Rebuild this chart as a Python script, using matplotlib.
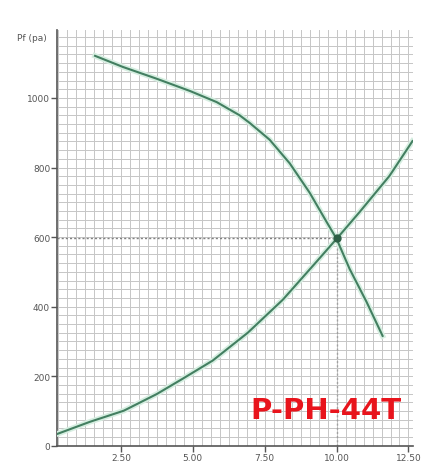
import numpy as np
import matplotlib
matplotlib.use("Agg")
import matplotlib.pyplot as plt
import matplotlib.patheffects as pe
from matplotlib.ticker import MultipleLocator

# fan curve (pressure falls with flow)
fan_flow = [1.60, 2.57, 3.75, 4.90, 5.83, 6.63, 6.98, 7.67, 8.37, 9.06, 9.65, 10.0, 10.45, 11.04, 11.6]
fan_pressure = [1121, 1089, 1055, 1020, 988, 950, 928, 880, 812, 728, 644, 595, 509, 414, 316]

# system curve (pressure rises with flow)
sys_flow = [0.28, 1.42, 2.60, 3.75, 4.65, 5.69, 6.91, 8.13, 9.31, 10.0, 10.8, 11.84, 12.64]
sys_pressure = [34, 69, 101, 149, 193, 245, 325, 420, 530, 595, 672, 776, 876]

# operating point
op_flow, op_pressure = 10.0, 598

x_ticks = [2.5, 5.0, 7.5, 10.0, 12.5]
x_labels = ["2.50", "5.00", "7.50", "10.00", "12.50"]
y_ticks = [0, 200, 400, 600, 800, 1000]

fig = plt.figure(figsize=(4.26, 4.64), dpi=100)
ax = fig.add_axes([0.134, 0.037, 0.835, 0.896])

line_col = "#437f61"
halo = [pe.Stroke(linewidth=4, foreground="#d6eee1"), pe.Normal()]

ax.plot(fan_flow, fan_pressure, color=line_col, lw=1.5, path_effects=halo, zorder=3)
ax.plot(sys_flow, sys_pressure, color=line_col, lw=1.5, path_effects=halo, zorder=3)

# dotted guide lines to the operating point
ax.plot([0.28, op_flow], [op_pressure, op_pressure], color="#808080", lw=1, ls=(0, (1.5, 1.5)), zorder=2)
ax.plot([op_flow, op_flow], [0, op_pressure], color="#a0a0a0", lw=1, ls=(0, (1.5, 1.5)), zorder=2)
ax.plot(op_flow, op_pressure, "o", color="#2d5e45", ms=5, zorder=4)

ax.set_xlim(0.28, 12.65)
ax.set_ylim(0, 1195)
ax.set_xticks(x_ticks)
ax.set_xticklabels(x_labels)
ax.set_yticks(y_ticks)
ax.xaxis.set_minor_locator(MultipleLocator(2.5 / 8))
ax.yaxis.set_minor_locator(MultipleLocator(25))
ax.grid(which="both", color="#c6c6c6", lw=0.7)
ax.set_axisbelow(True)
ax.tick_params(which="minor", length=0)
ax.tick_params(which="major", length=4, width=1, color="#555555", labelsize=6.5, labelcolor="#555555", pad=1)

for side in ["top", "right"]:
    ax.spines[side].set_visible(False)
for side in ["left", "bottom"]:
    ax.spines[side].set_color("#555555")
    ax.spines[side].set_linewidth(1.2)

fig.text(0.04, 0.912, "Pf (pa)", fontsize=6.5, color="#555555")

ax.text(0.755, 0.085, "P-PH-44T", transform=ax.transAxes, ha="center", va="center",
        fontsize=21, fontweight="bold", color="#e8141c", family="DejaVu Sans")

fig.savefig("out.png", dpi=100)
